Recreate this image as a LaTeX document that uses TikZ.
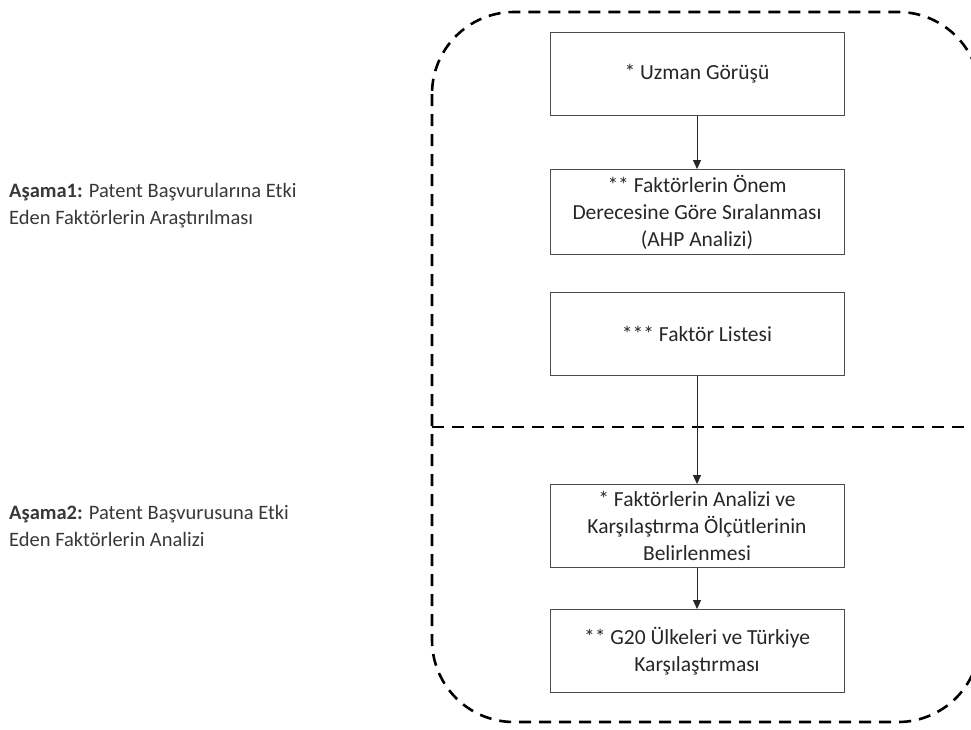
\documentclass[tikz,border=0pt]{standalone}
\usepackage{fontspec}
\setmainfont{Carlito}
\usetikzlibrary{arrows.meta}
\tikzset{
  kutu/.style={draw=black!70, line width=0.9pt, minimum width=294pt, minimum height=83pt,
    inner sep=2pt, align=center, text=black!85, font=\fontsize{21.5}{27}\selectfont},
  ok/.style={-{Triangle[length=9pt,width=8pt]}, line width=0.9pt, draw=black!85},
  kesik/.style={line width=2.6pt, dash pattern=on 12pt off 8pt},
  etiket/.style={anchor=west, align=left, text=black!78, inner sep=0pt,
    font=\fontsize{20.5}{27}\selectfont}
}
\begin{document}
\begin{tikzpicture}[x=1pt,y=-1pt]
\useasboundingbox (0,0) rectangle (971,729);
\draw[kesik, rounded corners=82pt] (432,12) rectangle (980,722);
\draw[kesik] (432,427) -- (980,427);
\node[kutu] (uzman) at (697,74) {* Uzman Görüşü};
\node[kutu, minimum height=85pt] (ahp) at (697,212) {** Faktörlerin Önem\\Derecesine Göre Sıralanması\\(AHP Analizi)};
\node[kutu] (liste) at (697,334) {*** Faktör Listesi};
\node[kutu] (analiz) at (697,526) {* Faktörlerin Analizi ve\\Karşılaştırma Ölçütlerinin\\Belirlenmesi};
\node[kutu] (g20) at (697,651) {** G20 Ülkeleri ve Türkiye\\Karşılaştırması};
\draw[ok] (uzman) -- (ahp);
\draw[ok] (liste) -- (analiz);
\draw[ok] (analiz) -- (g20);
\node[etiket] (asama1) at (9,206) {\textbf{Aşama1:} Patent Başvurularına Etki\\Eden Faktörlerin Araştırılması};
\node[etiket] (asama2) at (9,526) {\textbf{Aşama2:} Patent Başvurusuna Etki\\Eden Faktörlerin Analizi};
\end{tikzpicture}
\end{document}
